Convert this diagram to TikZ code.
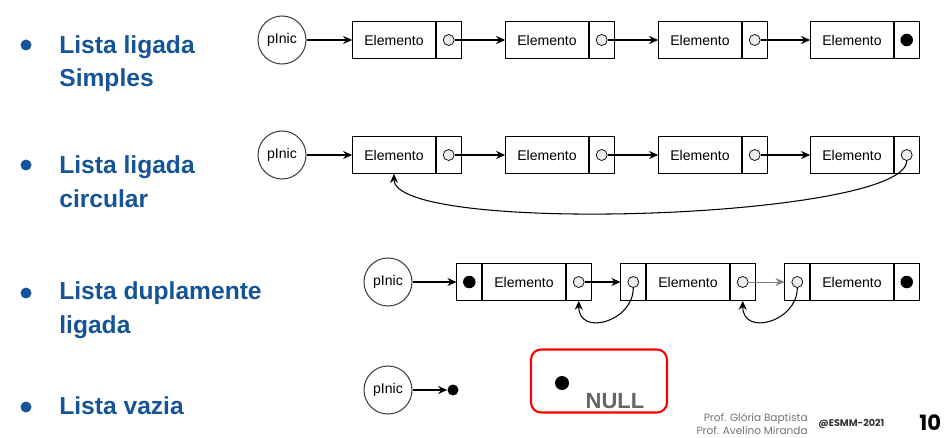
\documentclass[tikz,border=0pt]{standalone}
\usepackage{fontspec}
\setmainfont{Liberation Sans}
\newfontfamily\footfont{Poppins}
\usepackage{tikz}
\usetikzlibrary{arrows.meta,positioning}
\definecolor{esmblue}{RGB}{22,84,152}

\begin{document}
\begin{tikzpicture}[
  x=0.2mm,y=-0.2mm,
  item/.style={anchor=base west,align=left,inner sep=0,text=esmblue,
               font=\fontsize{14}{18.8}\selectfont\bfseries},
  bullet/.style={circle,fill=esmblue,minimum size=2.2mm,inner sep=0},
  head/.style={circle,draw=black!75,line width=0.6pt,minimum size=9.6mm,
               inner sep=0,font=\fontsize{8}{9}\selectfont},
  txtcell/.style={rectangle,draw,minimum width=16.6mm,minimum height=7.4mm,
                  inner sep=0,font=\fontsize{8}{9}\selectfont},
  ptrcell/.style={rectangle,draw,minimum width=5mm,minimum height=7.4mm,inner sep=0},
  ptr/.style={circle,draw,fill=gray!15,minimum size=2.2mm,inner sep=0},
  nil/.style={circle,fill=black,minimum size=2.5mm,inner sep=0},
  arrow/.style={-{Stealth[length=1.8mm,width=1.6mm]},line width=0.6pt}
]
\useasboundingbox (0,0) rectangle (948,438);

% bullet list (base = last line)
\node[bullet] (b1) at (26,45) {};
\node[item] (t1) at (59,87) {Lista ligada\\Simples};
\node[bullet] (b2) at (26,165) {};
\node[item] (t2) at (59,207) {Lista ligada\\circular};
\node[bullet] (b3) at (26,293) {};
\node[item] (t3) at (59,333) {Lista duplamente\\ligada};
\node[bullet] (b4) at (26,407) {};
\node[item] (t4) at (59,414) {Lista vazia};

% lista ligada simples
\node[head] (h1) at (282,40) {pInic};
\node[txtcell] (e11) at (394,40) {Elemento};
\node[ptrcell,right=0pt of e11] (p11) {};
\node[ptr] (c11) at (p11) {};
\node[txtcell] (e12) at (547,40) {Elemento};
\node[ptrcell,right=0pt of e12] (p12) {};
\node[ptr] (c12) at (p12) {};
\node[txtcell] (e13) at (700,40) {Elemento};
\node[ptrcell,right=0pt of e13] (p13) {};
\node[ptr] (c13) at (p13) {};
\node[txtcell] (e14) at (852,40) {Elemento};
\node[ptrcell,right=0pt of e14] (p14) {};
\node[nil] (c14) at (p14) {};

\draw[arrow] (h1) -- (e11.west);
\draw[arrow] (c11) -- (e12.west);
\draw[arrow] (c12) -- (e13.west);
\draw[arrow] (c13) -- (e14.west);

% lista ligada circular
\node[head] (h2) at (282,155) {pInic};
\node[txtcell] (e21) at (394,155) {Elemento};
\node[ptrcell,right=0pt of e21] (p21) {};
\node[ptr] (c21) at (p21) {};
\node[txtcell] (e22) at (547,155) {Elemento};
\node[ptrcell,right=0pt of e22] (p22) {};
\node[ptr] (c22) at (p22) {};
\node[txtcell] (e23) at (700,155) {Elemento};
\node[ptrcell,right=0pt of e23] (p23) {};
\node[ptr] (c23) at (p23) {};
\node[txtcell] (e24) at (852,155) {Elemento};
\node[ptrcell,right=0pt of e24] (p24) {};
\node[ptr] (c24) at (p24) {};

\draw[arrow] (h2) -- (e21.west);
\draw[arrow] (c21) -- (e22.west);
\draw[arrow] (c22) -- (e23.west);
\draw[arrow] (c23) -- (e24.west);
\draw[arrow] (c24.south) .. controls +(0,58) and +(0,62) .. (e21.south);

% lista duplamente ligada
\node[head] (h3) at (388,282) {pInic};
\node[txtcell] (e31) at (524,282) {Elemento};
\node[ptrcell,left=0pt of e31] (l31) {};
\node[ptrcell,right=0pt of e31] (r31) {};
\node[nil] (cl31) at (l31) {};
\node[ptr] (cr31) at (r31) {};
\node[txtcell] (e32) at (688,282) {Elemento};
\node[ptrcell,left=0pt of e32] (l32) {};
\node[ptrcell,right=0pt of e32] (r32) {};
\node[ptr] (cl32) at (l32) {};
\node[ptr] (cr32) at (r32) {};
\node[txtcell] (e33) at (852,282) {Elemento};
\node[ptrcell,left=0pt of e33] (l33) {};
\node[ptrcell,right=0pt of e33] (r33) {};
\node[ptr] (cl33) at (l33) {};
\node[nil] (cr33) at (r33) {};

\draw[arrow] (h3) -- (l31.west);
\draw[arrow] (cr31) -- (l32.west);
\draw[arrow,draw=gray,line width=0.4pt] (cr32) -- (l33.west);
\draw[arrow] (cl32.south) .. controls +(0,34) and +(0,36) .. (r31.south);
\draw[arrow] (cl33.south) .. controls +(0,34) and +(0,36) .. (r32.south);

% lista vazia
\node[head] (h4) at (388,390) {pInic};
\node[nil,minimum size=2.2mm] (n4) at (453,390) {};
\draw[arrow] (h4) -- (n4);

\node[rectangle,draw=red,line width=1.2pt,rounded corners=2mm,
      minimum width=27.2mm,minimum height=12.6mm] (nullbox) at (599,381) {};
\node[nil,minimum size=2.8mm] (nulldot) at (562,383) {};
\node[font=\fontsize{12.5}{14}\selectfont\bfseries,text=black!60]
      (nulltxt) at (615,401) {NULL};

% rodape
\node[anchor=base east,align=right,inner sep=0,text=black!55,
      font=\footfont\fontsize{6}{7}\selectfont]
      (autores) at (808,434) {Prof. Glória Baptista\\Prof. Avelino Miranda};
\node[anchor=base west,inner sep=0,text=black!80,
      font=\footfont\bfseries\fontsize{5.5}{6}\selectfont] (esmm) at (818,426) {@ESMM-2021};
\node[anchor=base west,inner sep=0,
      font=\footfont\bfseries\fontsize{12}{14}\selectfont] (pag) at (919,430) {10};
\end{tikzpicture}
\end{document}
